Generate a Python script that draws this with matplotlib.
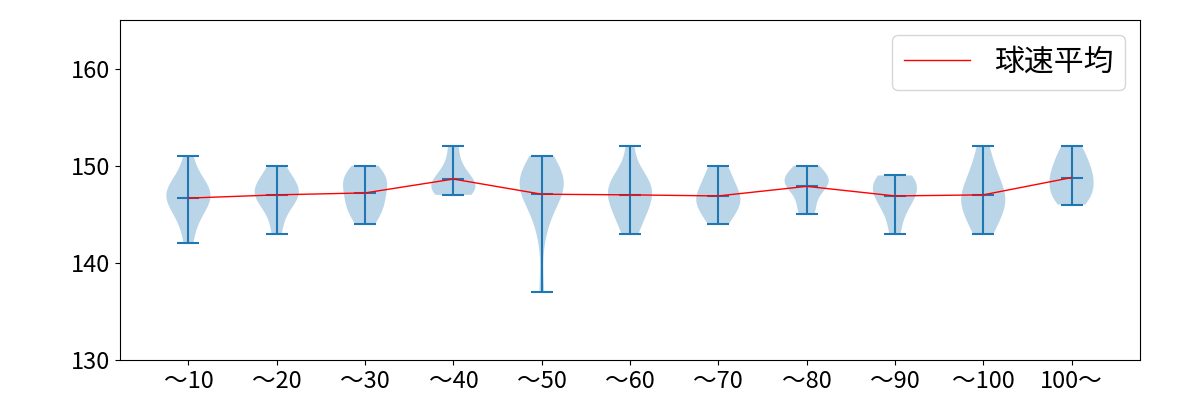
import matplotlib
matplotlib.use('Agg')
import matplotlib.pyplot as plt
import numpy as np

plt.rcParams['font.family'] = ['Noto Sans CJK JP', 'DejaVu Sans']

labels = ['〜10', '〜20', '〜30', '〜40', '〜50', '〜60', '〜70', '〜80', '〜90', '〜100', '100〜']

# 球速 (km/h) per pitch-count bucket
s10 = [142, 144, 145, 146, 146, 147, 147, 147, 148, 148, 149, 151]
s20 = [143, 145, 146, 147, 147, 147, 148, 148, 149, 150]
s30 = [144, 145, 146, 146, 147, 148, 148, 149, 149, 150]
s40 = [147, 147, 148, 148, 148, 149, 150, 152]
s50 = [137, 143, 145, 146, 147, 147, 148, 148, 148, 149, 149, 150, 150, 151, 148]
s60 = [143, 144, 145, 146, 146, 147, 147, 148, 149, 152, 148, 149]
s70 = [144, 145, 146, 146, 147, 147, 148, 149, 150]
s80 = [145, 146, 148, 148, 148, 149, 149, 150]
s90 = [143, 145, 146, 147, 147, 148, 148, 149, 149]
s100 = [143, 144, 145, 146, 146, 147, 147, 148, 149, 150, 152]
s101 = [146, 147, 147, 148, 149, 149, 150, 151, 152]

data = [s10, s20, s30, s40, s50, s60, s70, s80, s90, s100, s101]
pos = list(range(1, len(data) + 1))
means = [np.mean(d) for d in data]

fig = plt.figure(figsize=(12, 4), dpi=100)
ax = fig.add_axes([0.1, 0.1, 0.85, 0.85])
ax.violinplot(data, positions=pos, showmeans=True)
ax.plot(pos, means, color='red', linewidth=1, label='球速平均')
ax.set_xticks(pos)
ax.set_xticklabels(labels, fontsize=17)
ax.set_ylim(130, 165)
ax.set_yticks([130, 140, 150, 160])
ax.tick_params(axis='y', labelsize=17)
ax.legend(loc='upper right', fontsize=21.5, handlelength=2.2)
fig.savefig('out.png')
